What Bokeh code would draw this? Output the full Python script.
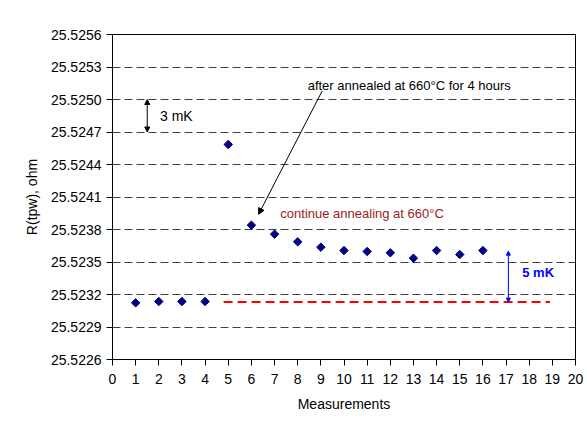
import math
from bokeh.plotting import figure
from bokeh.models import (FixedTicker, PrintfTickFormatter, Arrow, NormalHead,
                          Label, ColumnDataSource, Range1d)
from bokeh.embed import file_html
from bokeh.resources import INLINE

measurements = [1, 2, 3, 4, 5, 6, 7, 8, 9, 10, 11, 12, 13, 14, 15, 16]
resistance = [25.523123, 25.523135, 25.523135, 25.523135, 25.524585, 25.523840,
              25.523757, 25.523686, 25.523637, 25.523606, 25.523597, 25.523585,
              25.523535, 25.523606, 25.523569, 25.523606]
y_ticks = [25.5226, 25.5229, 25.5232, 25.5235, 25.5238, 25.5241, 25.5244,
           25.5247, 25.5250, 25.5253, 25.5256]
x_ticks = list(range(0, 21))
baseline_x = [4.8, 18.9]
baseline_y = [25.52313, 25.52313]

FONT = "Liberation Sans"

p = figure(frame_width=463, frame_height=325, output_backend="svg",
           toolbar_location=None, min_border_left=112, min_border_right=12,
           min_border_top=34, min_border_bottom=68,
           x_range=Range1d(0, 20), y_range=Range1d(25.5226, 25.5256))

p.background_fill_color = "white"
p.border_fill_color = "white"
p.outline_line_color = "black"
p.outline_line_width = 1
p.outline_line_alpha = 1

p.xgrid.grid_line_color = None
p.ygrid.grid_line_color = "#404040"
p.ygrid.grid_line_dash = "8 4"
p.ygrid.grid_line_width = 1

p.yaxis.ticker = FixedTicker(ticks=y_ticks)
p.yaxis.formatter = PrintfTickFormatter(format="%.4f")
p.xaxis.ticker = FixedTicker(ticks=x_ticks)

for ax in (p.xaxis[0], p.yaxis[0]):
    ax.axis_line_color = "black"
    ax.major_tick_line_color = "black"
    ax.major_tick_out = 6
    ax.major_tick_in = 0
    ax.minor_tick_line_color = None
    ax.major_label_text_font = FONT
    ax.major_label_text_font_size = "14px"
    ax.major_label_text_color = "black"
    ax.axis_label_text_font = FONT
    ax.axis_label_text_font_size = "14px"
    ax.axis_label_text_font_style = "normal"
    ax.axis_label_text_color = "black"

p.xaxis.axis_label = "Measurements"
p.yaxis.axis_label = "R(tpw), ohm"
p.xaxis.major_label_standoff = 8
p.xaxis.axis_label_standoff = 9
p.yaxis.major_label_standoff = 5
p.yaxis.axis_label_standoff = 8

p.line(baseline_x, baseline_y, line_color="#ff0000", line_width=2, line_dash="9 5")

src = ColumnDataSource(dict(x=measurements, y=resistance))
p.scatter("x", "y", source=src, marker="square", size=6, angle=math.pi / 4,
          fill_color="#000080", line_color="#000080")

# 3 mK arrow
p.add_layout(Arrow(x_start=1.5, y_start=25.5247, x_end=1.5, y_end=25.5250,
                   line_color="black", line_width=1,
                   start=NormalHead(size=5, fill_color="black", line_color="black"),
                   end=NormalHead(size=5, fill_color="black", line_color="black")))
p.add_layout(Label(x=2.05, y=25.52485, text="3 mK", text_font=FONT,
                   text_font_size="14px", text_baseline="middle", text_color="black"))

# 5 mK arrow
p.add_layout(Arrow(x_start=17.1, y_start=25.52313, x_end=17.1, y_end=25.52360,
                   line_color="#0000ff", line_width=1,
                   start=NormalHead(size=4, fill_color="#0000ff", line_color="#0000ff"),
                   end=NormalHead(size=4, fill_color="#0000ff", line_color="#0000ff")))
p.add_layout(Label(x=17.7, y=25.52340, text="5 mK", text_font=FONT,
                   text_font_size="13px", text_font_style="bold",
                   text_baseline="middle", text_color="#0000ff"))

# annealing annotation
p.add_layout(Arrow(x_start=9.06, y_start=25.52508, x_end=6.31, y_end=25.52394,
                   line_color="black", line_width=1,
                   end=NormalHead(size=6, fill_color="black", line_color="black")))
p.add_layout(Label(x=8.43, y=25.52513, text="after annealed at 660\u00b0C for 4 hours",
                   text_font=FONT, text_font_size="13px", text_baseline="middle",
                   text_color="black"))
p.add_layout(Label(x=7.25, y=25.52395, text="continue annealing at 660\u00b0C",
                   text_font=FONT, text_font_size="13px", text_baseline="middle",
                   text_color="#9b1c1c"))

open("out.html", "w").write(file_html(p, INLINE))
